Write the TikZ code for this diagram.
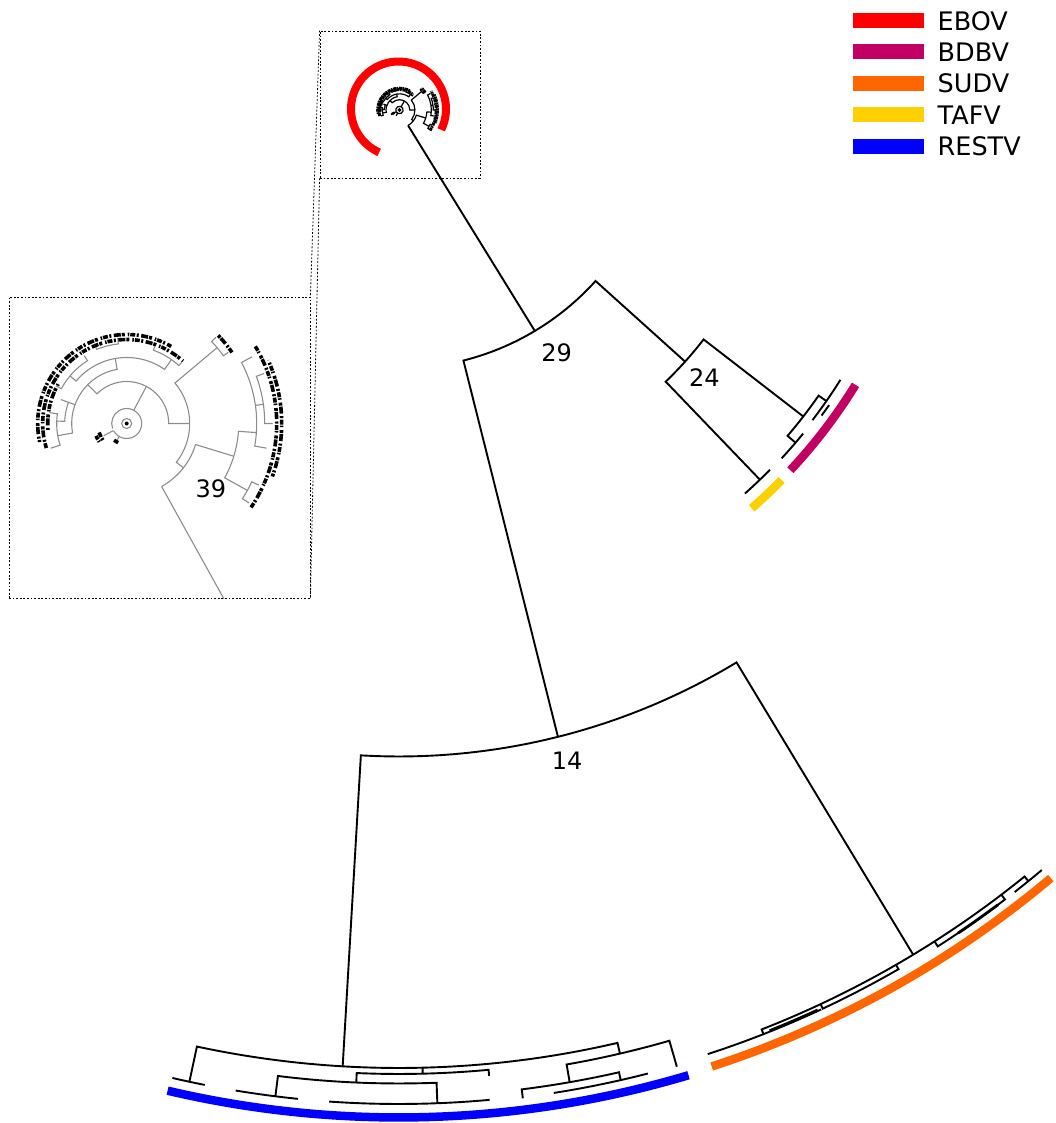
\documentclass[tikz,border=0pt]{standalone}
\usepackage{fontspec}
\setmainfont{DejaVu Sans}
\definecolor{ebov}{RGB}{255,0,0}
\definecolor{bdbv}{RGB}{194,0,100}
\definecolor{sudv}{RGB}{255,102,0}
\definecolor{tafv}{RGB}{255,208,0}
\definecolor{restv}{RGB}{0,0,255}
% polar helpers: an arc at radius #3 from angle #1 to #2
\newcommand\tarc[3]{(#1:#3) arc[start angle=#1, end angle=#2, radius=#3]}
% clade bracket: stem ends #4/#5, arc at radius #3 between angles #1 and #2
\newcommand\tbrk[5]{(#1:#4) -- (#1:#3) arc[start angle=#1, end angle=#2, radius=#3] -- (#2:#5)}
% the EBOV subtree around the root; #1 branch style, #2 tip style
\newcommand\ebovtree[2]{%
  \draw[#1] (0,0) circle[radius=5];
  \fill (0,0) circle[radius=2];
  \draw[#1] \tarc{-150}{200}{15};
  \draw[#1] (62:15) -- (62:42);
  \draw[#1] \tbrk{0}{135}{42}{63}{55};
  % left clade
  \draw[#1] \tbrk{190}{100}{55}{70}{66};
  \draw[#1] \tbrk{198}{172}{70}{80}{78};
  \draw[#1] \tbrk{140}{55}{66}{74}{78};
  \draw[#1] \tbrk{152}{122}{74}{80}{80};
  \draw[#1] \tbrk{178}{160}{62}{70}{70};
  \draw[#1] (160:55) -- (160:62);
  \draw[#1] \tbrk{70}{48}{78}{82}{82};
  \draw[#1] \tbrk{112}{96}{80}{86}{86};
  \draw[#2] \tarc{197}{48}{84};
  \draw[#2, dash phase=3pt] \tarc{192}{60}{89};
  \draw[#2, dash phase=6pt] \tarc{185}{150}{79};
  % right clade
  \draw[#1] \tbrk{40}{-38}{63}{118}{72};
  \draw[#1] \tarc{-61}{-17}{72} -- (-17:112);
  \draw[#1] \tbrk{-29}{-4}{112}{138}{130};
  \draw[#1] \tbrk{-33}{-25}{138}{146}{146};
  \draw[#1] \tbrk{-10}{28}{130}{142}{142};
  \draw[#1] (8:130) -- (8:138);
  \draw[#1] \tbrk{0}{20}{138}{146}{146};
  \draw[#2] \tarc{-34}{31}{150};
  \draw[#2, dash phase=2pt] \tarc{-20}{24}{155};
  % upper twig
  \draw[#1] \tbrk{35}{44}{118}{124}{124};
  \draw[#2] \tarc{34}{45}{127};
  % short twigs off the inner ring
  \draw[#1] (208:15) -- (208:26);
  \draw[#2] \tarc{198}{218}{29};
  \draw[#2, dash phase=1pt] \tarc{202}{214}{33};
  \draw[#1] (-120:15) -- (-120:19);
  \draw[#2] \tarc{-114}{-127}{21};
  \coordinate (root39) at (-61:72);
}
\begin{document}
\begin{tikzpicture}[x=1pt, y=1pt,
  br/.style={line width=1.9pt, line join=miter},
  band/.style={line width=8.5pt},
  boxline/.style={line width=0.8pt, dash pattern=on 1.8pt off 1.8pt},
  lbl/.style={font=\fontsize{24}{28}\selectfont, inner sep=0pt},
  legtxt/.style={font=\fontsize{25.5}{30}\selectfont, inner sep=0pt},
  minibr/.style={line width=1.2pt},
  minitip/.style={line width=3pt, dash pattern=on 3pt off 0.6pt on 1.5pt off 0.8pt},
  insbr/.style={line width=1.1pt, black!45},
  instip/.style={line width=3.6pt, dash pattern=on 5pt off 1.5pt on 2pt off 2.5pt on 7pt off 1pt on 3pt off 3pt on 1.5pt off 1pt}]
\useasboundingbox (-399,-1019) rectangle (657,104);

% zoom frames and their guide lines
\node[boxline, draw, minimum width=160pt, minimum height=147pt, inner sep=0pt] (srcbox) at (1,-0.5) {};
\node[boxline, draw, minimum width=301pt, minimum height=301pt, inner sep=0pt] (insetbox) at (-239.5,-343.5) {};
\draw[boxline] (srcbox.north west) -- (insetbox.north east);
\draw[boxline] (srcbox.south west) -- (insetbox.south east);

% EBOV subtree at the root, with its red band
\begin{scope}[shift={(0.5,-6)}, scale=0.245]
  \ebovtree{minibr}{minitip}
  \coordinate (m39) at (root39);
\end{scope}
\begin{scope}[shift={(-0.5,-5)}]
  \draw[ebov, line width=8pt] \tarc{-26}{246}{47.5};
\end{scope}

% magnified EBOV subtree
\begin{scope}
  \clip (insetbox.south west) rectangle (insetbox.north east);
  \begin{scope}[shift={(-272.3,-319.5)}]
    \ebovtree{insbr}{instip}
    \coordinate (i39) at (root39);
    \draw[insbr] (i39) -- (-61:240);
  \end{scope}
\end{scope}
\node[lbl] (lab39) at (-188,-385.2) {39};

% backbone
\coordinate (n29) at (-59.1:264.5);
\draw[br] (m39) -- (n29);
\draw[br] \tbrk{-75.9}{-42.0}{264.5}{652.5}{385};
\draw[br] \tbrk{-93.35}{-58.85}{652.5}{963.5}{994};
\draw[br] \tbrk{-46.15}{-37.7}{385}{521}{511};
\node[lbl] (lab29) at (157.7,-248.3) {29};
\node[lbl] (lab14) at (168.2,-656.8) {14};
\node[lbl] (lab24) at (305.3,-273.8) {24};

% TAFV
\draw[br] \tarc{-48.4}{-44.6}{521};
% BDBV
\draw[br] \tbrk{-40.5}{-34.8}{511}{521}{520.5};
\draw[br] \tarc{-42.8}{-39.2}{521.5};
\draw[br] \tarc{-37.4}{-32.0}{520.5};
\draw[br] \tarc{-36.4}{-35.0}{525};

% SUDV
\draw[br] \tbrk{-68.6}{-51.0}{994}{999}{1000};
\draw[br] \tarc{-72.0}{-65.0}{999};
\draw[br] \tarc{-52.0}{-50.0}{1000};
\draw[br] \tbrk{-64.9}{-60.0}{999}{994}{994};
\draw[br] \tbrk{-57.4}{-52.7}{1000}{994}{994};
\draw[br, line width=2.8pt] \tarc{-56.0}{-53.2}{1000};
\draw[br, line width=2.6pt] \tarc{-68.2}{-65.2}{998};

% RESTV
\draw[br] \tbrk{-102.1}{-76.9}{964}{1000}{975};
\draw[br] \tarc{-103.1}{-101.2}{1000};
\draw[br] (-88.6:964) -- (-88.6:970);
\draw[br] \tbrk{-92.5}{-84.7}{970}{979.5}{976};
\draw[br] \tbrk{-97.1}{-87.8}{979.5}{1000}{1000};
\draw[br] \tarc{-99.4}{-95.8}{1000};
\draw[br] \tarc{-94.0}{-84.8}{1000};
\draw[br] \tbrk{-80.1}{-73.9}{975}{993}{1002};
\draw[br] \tbrk{-82.9}{-77.2}{993}{1002}{1001};
\draw[br] \tarc{-81.1}{-75.6}{1001};

% species bands
\draw[restv, band] \tarc{-103.2}{-73.4}{1013.5};
\draw[sudv, band] \tarc{-72.0}{-49.9}{1012};
\draw[bdbv, band] \tarc{-43.1}{-31.6}{536};
\draw[tafv, band] \tarc{-48.9}{-44.5}{536.5};

% legend
\foreach \c/\t/\y [count=\i] in {ebov/EBOV/20.8, bdbv/BDBV/52, sudv/SUDV/83.3, tafv/TAFV/115, restv/RESTV/146.5}{
  \fill[\c] (454,{104-\y-7.5}) rectangle (525,{104-\y+7.5});
  \node[legtxt, anchor=west] (leg\i) at (538.5,{104-\y}) {\t};
}
\end{tikzpicture}
\end{document}
